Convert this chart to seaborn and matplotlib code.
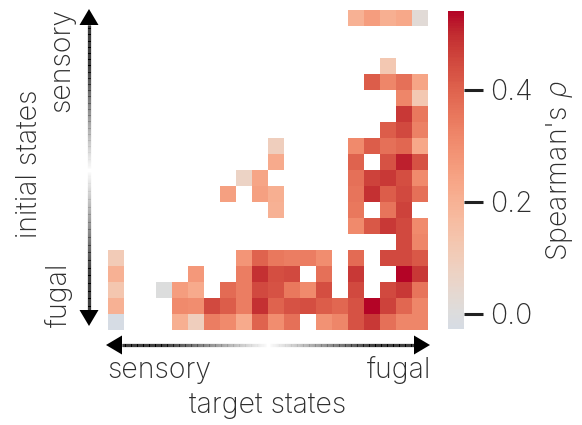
import numpy as np
import pandas as pd
import seaborn as sns
import matplotlib
matplotlib.use("Agg")
import matplotlib.pyplot as plt
from matplotlib.collections import LineCollection
from matplotlib.patches import Polygon

# Spearman correlation between initial and target states (20 x 20 grid).
# Rows: initial states (sensory at top -> fugal at bottom)
# Columns: target states (sensory at left -> fugal at right)
n_states = 20
row_0 = {15: 0.20, 16: 0.26, 17: 0.21, 18: 0.23, 19: 0.02}
row_1 = {}
row_2 = {}
row_3 = {17: 0.12}
row_4 = {16: 0.41, 17: 0.32, 18: 0.37, 19: 0.24}
row_5 = {18: 0.32, 19: 0.12}
row_6 = {18: 0.48, 19: 0.35}
row_7 = {17: 0.41, 18: 0.45, 19: 0.33}
row_8 = {10: 0.09, 15: 0.31, 16: 0.41, 17: 0.37, 18: 0.39, 19: 0.23}
row_9 = {10: 0.22, 15: 0.40, 17: 0.43, 18: 0.51, 19: 0.43}
row_10 = {8: 0.07, 9: 0.24, 15: 0.37, 16: 0.46, 17: 0.48, 18: 0.44, 19: 0.31}
row_11 = {7: 0.25, 9: 0.25, 10: 0.21, 15: 0.36, 16: 0.49, 17: 0.41, 18: 0.45, 19: 0.37}
row_12 = {10: 0.20, 15: 0.35, 17: 0.36, 18: 0.46}
row_13 = {15: 0.31, 16: 0.42, 17: 0.48, 18: 0.45, 19: 0.31}
row_14 = {18: 0.45, 19: 0.32}
row_15 = {0: 0.11, 8: 0.28, 9: 0.40, 10: 0.35, 11: 0.34, 12: 0.34, 13: 0.30,
          15: 0.38, 17: 0.45, 18: 0.45, 19: 0.42}
row_16 = {0: 0.20, 5: 0.27, 8: 0.34, 9: 0.49, 10: 0.44, 11: 0.45, 13: 0.37,
          15: 0.48, 18: 0.54, 19: 0.48}
row_17 = {0: 0.13, 3: 0.00, 4: 0.26, 5: 0.22, 7: 0.38, 8: 0.34, 9: 0.45,
          10: 0.43, 11: 0.35, 12: 0.31, 13: 0.44, 15: 0.45, 17: 0.45,
          18: 0.48, 19: 0.36}
row_18 = {0: 0.20, 4: 0.31, 5: 0.30, 6: 0.45, 7: 0.41, 8: 0.34, 9: 0.49,
          10: 0.40, 11: 0.43, 12: 0.44, 13: 0.41, 14: 0.39, 15: 0.43,
          16: 0.54, 17: 0.46, 18: 0.39, 19: 0.32}
row_19 = {0: -0.027, 4: 0.21, 5: 0.09, 6: 0.34, 7: 0.31, 8: 0.22, 9: 0.40,
          10: 0.30, 11: 0.37, 13: 0.29, 14: 0.32, 15: 0.43, 16: 0.48,
          17: 0.37, 18: 0.32, 19: 0.32}

rows = [row_0, row_1, row_2, row_3, row_4, row_5, row_6, row_7, row_8, row_9,
        row_10, row_11, row_12, row_13, row_14, row_15, row_16, row_17,
        row_18, row_19]

rho = pd.DataFrame(
    [[r.get(c, np.nan) for c in range(n_states)] for r in rows],
    index=range(n_states), columns=range(n_states),
)

cbar_ticks = [0.0, 0.2, 0.4]
cbar_ticklabels = ["0.0", "0.2", "0.4"]

sns.set_theme(style="white")
plt.rcParams["font.family"] = ["Inter", "DejaVu Sans"]
plt.rcParams["font.weight"] = "light"
plt.rcParams["mathtext.fontset"] = "custom"
plt.rcParams["mathtext.it"] = "Inter:italic:light"
plt.rcParams["mathtext.rm"] = "Inter:light"
text_color = "0.18"
fs = 20.5

W, H = 582, 425
fig = plt.figure(figsize=(W / 100, H / 100), dpi=100)


def fx(x):
    return x / W


def fy(y):
    return 1 - y / H


ax = fig.add_axes([fx(108), fy(330), 320 / W, 320 / H])
cax = fig.add_axes([fx(448), fy(329), 16 / W, 318 / H])

sns.heatmap(rho, cmap="coolwarm", center=0, ax=ax, cbar_ax=cax,
            xticklabels=False, yticklabels=False,
            cbar_kws={"ticks": cbar_ticks})

cbar = ax.collections[0].colorbar
cbar.outline.set_visible(False)
cax.set_yticklabels(cbar_ticklabels)
cax.tick_params(axis="y", length=14, width=2.2, color="0.13", pad=5,
                labelsize=fs, labelcolor=text_color, right=True)
cax.set_ylabel("Spearman's $\\rho$", fontsize=fs, color=text_color,
               labelpad=8, fontweight="light")
cax.yaxis.set_label_position("right")


def gradient_arrow(x0, y0, x1, y1, n=120):
    """Shaft fading from white at (x0, y0) to black at the head (x1, y1)."""
    head_len, head_half = 16, 9.5
    L = np.hypot(x1 - x0, y1 - y0)
    ux, uy = (x1 - x0) / L, (y1 - y0) / L
    bx, by = x1 - ux * head_len, y1 - uy * head_len
    t = np.linspace(0, 1, n + 1)
    xs = x0 + (bx - x0) * t
    ys = y0 + (by - y0) * t
    segs = [[(fx(xs[i]), fy(ys[i])), (fx(xs[i + 1]), fy(ys[i + 1]))]
            for i in range(n)]
    tm = (t[:-1] + t[1:]) / 2
    grey = np.clip(1 - tm / 0.72, 0, 1) * 0.98
    cols = [(g, g, g) for g in grey]
    fig.add_artist(LineCollection(segs, colors=cols, linewidths=2.3,
                                  transform=fig.transFigure))
    px, py = -uy, ux
    tri = [(fx(x1), fy(y1)),
           (fx(bx + px * head_half), fy(by + py * head_half)),
           (fx(bx - px * head_half), fy(by - py * head_half))]
    fig.add_artist(Polygon(tri, closed=True, facecolor="black",
                           edgecolor="none", transform=fig.transFigure))


# vertical axis arrows (initial states)
gradient_arrow(89, 168, 89, 9)
gradient_arrow(89, 172, 89, 326)
# horizontal axis arrows (target states)
gradient_arrow(266, 345, 106, 345)
gradient_arrow(270, 345, 430, 345)

fig.text(fx(29), fy(164), "initial states", rotation=90, ha="center",
         va="center", fontsize=fs, color=text_color)
fig.text(fx(62), fy(60), "sensory", rotation=90, ha="center", va="center",
         fontsize=fs, color=text_color)
fig.text(fx(59), fy(295), "fugal", rotation=90, ha="center", va="center",
         fontsize=fs, color=text_color)
fig.text(fx(107), fy(378), "sensory", ha="left", va="baseline",
         fontsize=fs, color=text_color)
fig.text(fx(431), fy(378), "fugal", ha="right", va="baseline",
         fontsize=fs, color=text_color)
fig.text(fx(268), fy(413), "target states", ha="center", va="baseline",
         fontsize=fs, color=text_color)

fig.savefig("out.png", dpi=100)
